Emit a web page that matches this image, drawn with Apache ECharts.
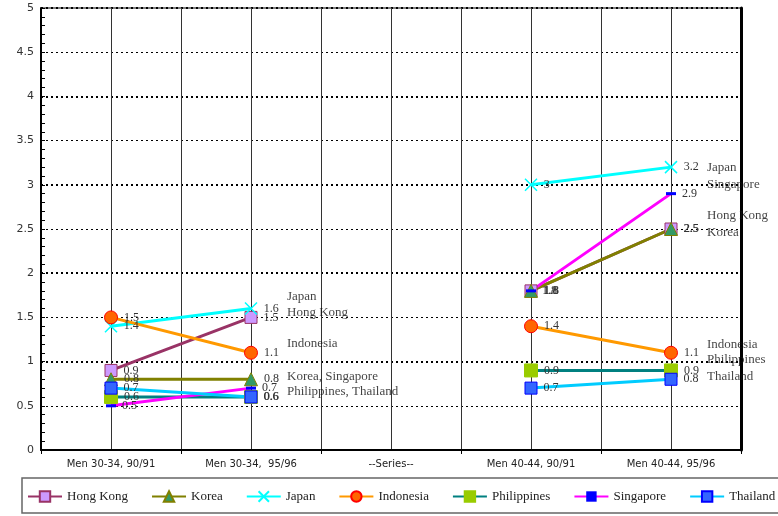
<!DOCTYPE html>
<html>
<head>
<meta charset="utf-8">
<script src="https://cdn.jsdelivr.net/npm/echarts@6/dist/echarts.min.js"></script>
<style>
  html, body { margin: 0; padding: 0; background: #fff; }
  #chart { width: 778px; height: 516px; }
</style>
</head>
<body>
<div id="chart"></div>
<script>
// Categories along the x axis
const categories = ['Men 30-34, 90/91', 'Men 30-34,  95/96', '--Series--', 'Men 40-44, 90/91', 'Men 40-44, 95/96'];

// Values per country (null = no value in that column)
const hongKong    = [0.9, 1.5, null, 1.8, 2.5];
const korea       = [0.8, 0.8, null, 1.8, 2.5];
const japan       = [1.4, 1.6, null, 3.0, 3.2];
const indonesia   = [1.5, 1.1, null, 1.4, 1.1];
const philippines = [0.6, 0.6, null, 0.9, 0.9];
const singapore   = [0.5, 0.7, null, 1.8, 2.9];
const thailand    = [0.7, 0.6, null, 0.7, 0.8];

// Y axis tick labels
const yTicks = [0, 0.5, 1, 1.5, 2, 2.5, 3, 3.5, 4, 4.5, 5];

// Name notes beside the end of each group: [text, level]
const notesLeft = [['Japan', 1.73], ['Hong Kong', 1.55], ['Indonesia', 1.2], ['Korea, Singapore', 0.83], ['Philippines, Thailand', 0.66]];
const notesRight = [['Japan', 3.2], ['Singapore', 3.0], ['Hong Kong', 2.65], ['Korea', 2.46], ['Indonesia', 1.19], ['Philippines', 1.02], ['Thailand', 0.83]];

const serif = 'Liberation Serif';
const sans = 'DejaVu Sans';

const valueLabel = {
  show: true,
  position: 'right',
  distance: 6,
  fontFamily: serif,
  fontSize: 12,
  color: '#333'
};

function lineSeries(name, data, lineColor, symbol, symbolSize, fill, border, borderWidth) {
  return {
    name: name,
    type: 'line',
    data: data,
    symbol: symbol,
    symbolSize: symbolSize,
    showAllSymbol: true,
    connectNulls: false,
    lineStyle: { color: lineColor, width: 3 },
    itemStyle: { color: fill, borderColor: border, borderWidth: borderWidth },
    label: valueLabel,
    emphasis: { disabled: true },
    z: 3
  };
}

const series = [
  lineSeries('Hong Kong', hongKong, '#993366', 'rect', 12, '#CC99FF', '#993366', 1),
  lineSeries('Korea', korea, '#808000', 'triangle', 13, '#339966', '#808000', 1),
  lineSeries('Japan', japan, '#00FFFF', 'path://M0,0L10,10M10,0L0,10', 12, '#00FFFF', '#00FFFF', 1.5),
  lineSeries('Indonesia', indonesia, '#FF9900', 'circle', 13, '#FF6600', '#FF0000', 1),
  lineSeries('Philippines', philippines, '#008080', 'rect', 13, '#99CC00', '#99CC00', 1),
  lineSeries('Singapore', singapore, '#FF00FF', 'path://M0,0H10V2H0Z', [10, 3], '#0000FF', '#0000FF', 0),
  lineSeries('Thailand', thailand, '#00CCFF', 'rect', 12, '#3366FF', '#0000FF', 1)
];

// Notes next to the group ends
function noteSeries(notes, catIndex) {
  return {
    type: 'scatter',
    symbolSize: 0,
    silent: true,
    data: notes.map(n => ({ name: n[0], value: [catIndex, n[1]] })),
    label: {
      show: true,
      position: 'right',
      distance: 36,
      formatter: p => p.name,
      fontFamily: serif,
      fontSize: 13,
      color: '#111'
    },
    z: 4
  };
}
series.push(noteSeries(notesLeft, 1));
series.push(noteSeries(notesRight, 4));

const chart = echarts.init(document.getElementById('chart'), null, { renderer: 'canvas' });

chart.setOption({
  animation: false,
  backgroundColor: '#fff',
  grid: {
    left: 41, right: 37, top: 8, bottom: 66,
    show: true, borderColor: '#000', borderWidth: 1
  },
  graphic: [{
    type: 'rect',
    shape: { x: 22, y: 478, width: 770, height: 35 },
    style: { fill: 'none', stroke: '#666', lineWidth: 1.5 },
    silent: true
  }],
  legend: {
    data: ['Hong Kong', 'Korea', 'Japan', 'Indonesia', 'Philippines', 'Singapore', 'Thailand'],
    left: 27,
    top: 490,
    width: 751,
    padding: [0, 0],
    itemWidth: 34,
    itemHeight: 13,
    itemGap: 23,
    textStyle: { fontFamily: serif, fontSize: 13, color: '#222' },
    selectedMode: false
  },
  xAxis: [{
    type: 'category',
    data: categories,
    boundaryGap: true,
    axisLine: { lineStyle: { color: '#000', width: 2 } },
    axisTick: { show: true, length: 4, lineStyle: { color: '#000' } },
    axisLabel: { fontFamily: sans, fontSize: 10, color: '#222', margin: 9 },
    splitLine: { show: false }
  }, {
    // helper axis for the vertical guide lines at category edges and centres
    type: 'value',
    min: 0, max: 5, interval: 0.5,
    show: true,
    position: 'bottom',
    axisLine: { show: false },
    axisTick: { show: false },
    axisLabel: { show: false },
    splitLine: { show: true, lineStyle: { color: '#333', width: 1 } }
  }],
  yAxis: [{
    type: 'value',
    min: 0, max: 5, interval: 0.5,
    axisLine: { show: true, lineStyle: { color: '#000', width: 2 } },
    axisTick: { show: true, inside: true, length: 4, lineStyle: { color: '#000' } },
    minorTick: { show: true, splitNumber: 5, length: 4, lineStyle: { color: '#000' } },
    axisLabel: {
      fontFamily: sans, fontSize: 11, color: '#333', margin: 7,
      customValues: yTicks,
      formatter: v => String(v)
    },
    splitLine: { show: true, lineStyle: { color: '#000', width: 1, type: [2, 3] } }
  }, {
    type: 'value',
    position: 'right',
    min: 0, max: 5, interval: 1,
    axisLine: { show: true, lineStyle: { color: '#000', width: 3 } },
    axisTick: { show: false },
    axisLabel: { show: false },
    splitLine: { show: true, lineStyle: { color: '#000', width: 2, type: [2, 3] } }
  }],
  series: series
});
</script>
</body>
</html>
